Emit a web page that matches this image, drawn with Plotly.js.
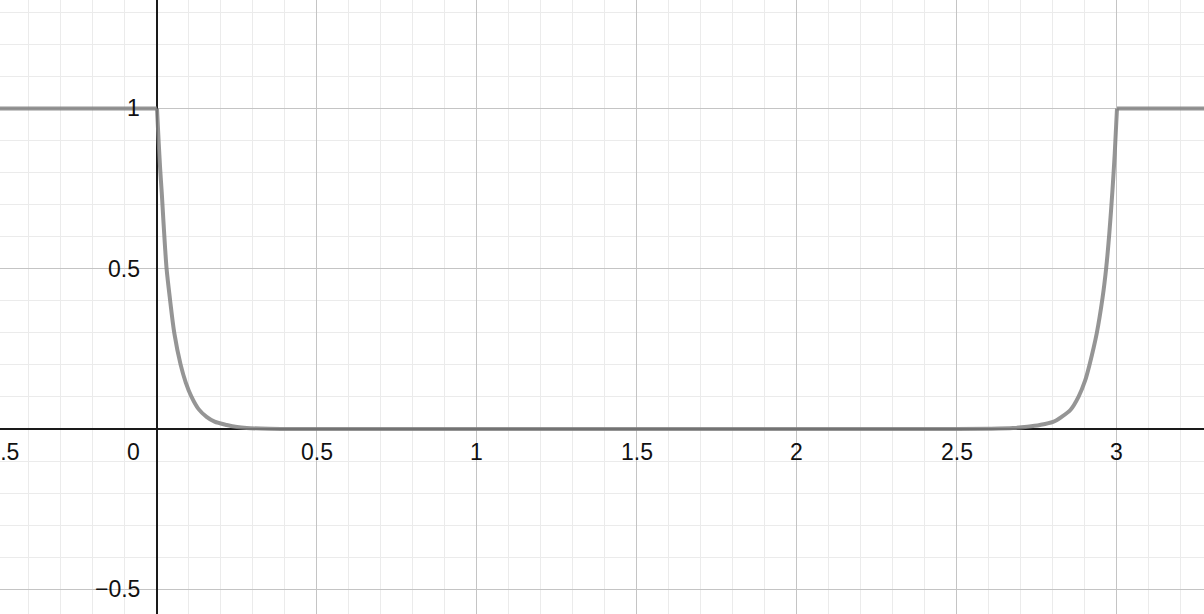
<!DOCTYPE html>
<html>
<head>
<meta charset="utf-8">
<script src="https://cdn.plot.ly/plotly-3.0.1.min.js"></script>
<style>
    html, body { margin: 0; padding: 0; background: #fff; }
    #graph { width: 1204px; height: 614px; }
</style>
</head>
<body>
<div id="graph"></div>
<script>
// curve: flat at 1, drops near x=0, rises again near x=3
const flatLeftX = [-0.5, 0]
const flatLeftY = [1, 1]
const dropX = [0, 0.005, 0.01, 0.015, 0.02, 0.025, 0.03, 0.04, 0.054, 0.074, 0.09, 0.108, 0.13, 0.155, 0.18, 0.218, 0.25, 0.28, 0.35, 0.5]
const dropY = [1, 0.90, 0.81, 0.735, 0.65, 0.57, 0.50, 0.41, 0.30, 0.20, 0.145, 0.10, 0.062, 0.038, 0.023, 0.0125, 0.006, 0.003, 0.001, 0]
const floorX = [0.5, 2.5]
const floorY = [0, 0]
const riseX = [2.5, 2.6, 2.675, 2.72, 2.759, 2.8, 2.827, 2.855, 2.88, 2.9, 2.914, 2.937, 2.955, 2.966, 2.976, 2.986, 2.993, 3.0]
const riseY = [0, 0.001, 0.003, 0.007, 0.0125, 0.022, 0.038, 0.06, 0.101, 0.15, 0.20, 0.30, 0.41, 0.50, 0.61, 0.747, 0.86, 1]
const flatRightX = [3, 3.3]
const flatRightY = [1, 1]

// tick labels (drawn along the axes, desmos style)
const xTickVals = [-0.5, 0.5, 1, 1.5, 2, 2.5, 3]
const xTickText = ['\u22120.5', '0.5', '1', '1.5', '2', '2.5', '3']
const yTickVals = [1, 0.5, -0.5]
const yTickText = ['1', '0.5', '\u22120.5']

const xRange = [-0.4906, 3.2719]
const yRange = [-0.5772, 1.3385]

const labelFont = { family: 'Liberation Sans, Arial, sans-serif', size: 23, color: '#111' }

let annotations = []

xTickVals.forEach((v, i) => {
    let ann = {
        x: v, y: 0, xref: 'x', yref: 'y',
        text: xTickText[i], showarrow: false,
        xanchor: 'center', yanchor: 'middle',
        yshift: -23, font: labelFont
    }
    // labels outside the x range get dropped by plotly, place those on paper
    if (v < xRange[0] || v > xRange[1]) {
        ann.xref = 'paper'
        ann.x = (v - xRange[0]) / (xRange[1] - xRange[0])
        ann.yref = 'paper'
        ann.y = (0 - yRange[0]) / (yRange[1] - yRange[0])
    }
    annotations.push(ann)
})

// origin label sits left of the y axis
annotations.push({
    x: 0, y: 0, xref: 'x', yref: 'y',
    text: '0', showarrow: false,
    xanchor: 'right', yanchor: 'middle', xshift: -15, yshift: -23, font: labelFont
})

yTickVals.forEach((v, i) => {
    annotations.push({
        x: 0, y: v, xref: 'x', yref: 'y',
        text: yTickText[i], showarrow: false,
        xanchor: 'right', yanchor: 'middle', xshift: -15, font: labelFont
    })
})

const lineStyle = { color: 'rgba(130,130,130,0.85)', width: 4 }

function segment(xs, ys, smooth) {
    return {
        x: xs, y: ys,
        mode: 'lines',
        line: smooth ? Object.assign({ shape: 'spline', smoothing: 0.8 }, lineStyle) : lineStyle,
        hoverinfo: 'skip'
    }
}

let traces = [
    segment(flatLeftX, flatLeftY, false),
    segment(dropX, dropY, true),
    segment(floorX, floorY, false),
    segment(riseX, riseY, true),
    segment(flatRightX, flatRightY, false)
]

let layout = {
    width: 1204,
    height: 614,
    margin: { l: 0, r: 0, t: 0, b: 0 },
    paper_bgcolor: '#fff',
    plot_bgcolor: '#fff',
    showlegend: false,
    xaxis: {
        range: xRange,
        tick0: 0, dtick: 0.5,
        showticklabels: false, ticks: '',
        showgrid: true, gridcolor: '#c4c4c4', gridwidth: 1,
        minor: { tick0: 0, dtick: 0.1, showgrid: true, gridcolor: '#ebebeb', gridwidth: 1 },
        zeroline: true, zerolinecolor: '#1a1a1a', zerolinewidth: 2,
        showline: false, fixedrange: true
    },
    yaxis: {
        range: yRange,
        tick0: 0, dtick: 0.5,
        showticklabels: false, ticks: '',
        showgrid: true, gridcolor: '#c4c4c4', gridwidth: 1,
        minor: { tick0: 0, dtick: 0.1, showgrid: true, gridcolor: '#ebebeb', gridwidth: 1 },
        zeroline: true, zerolinecolor: '#1a1a1a', zerolinewidth: 2,
        showline: false, fixedrange: true
    },
    annotations: annotations
}

Plotly.newPlot('graph', traces, layout, { displayModeBar: false, staticPlot: true })
</script>
</body>
</html>
